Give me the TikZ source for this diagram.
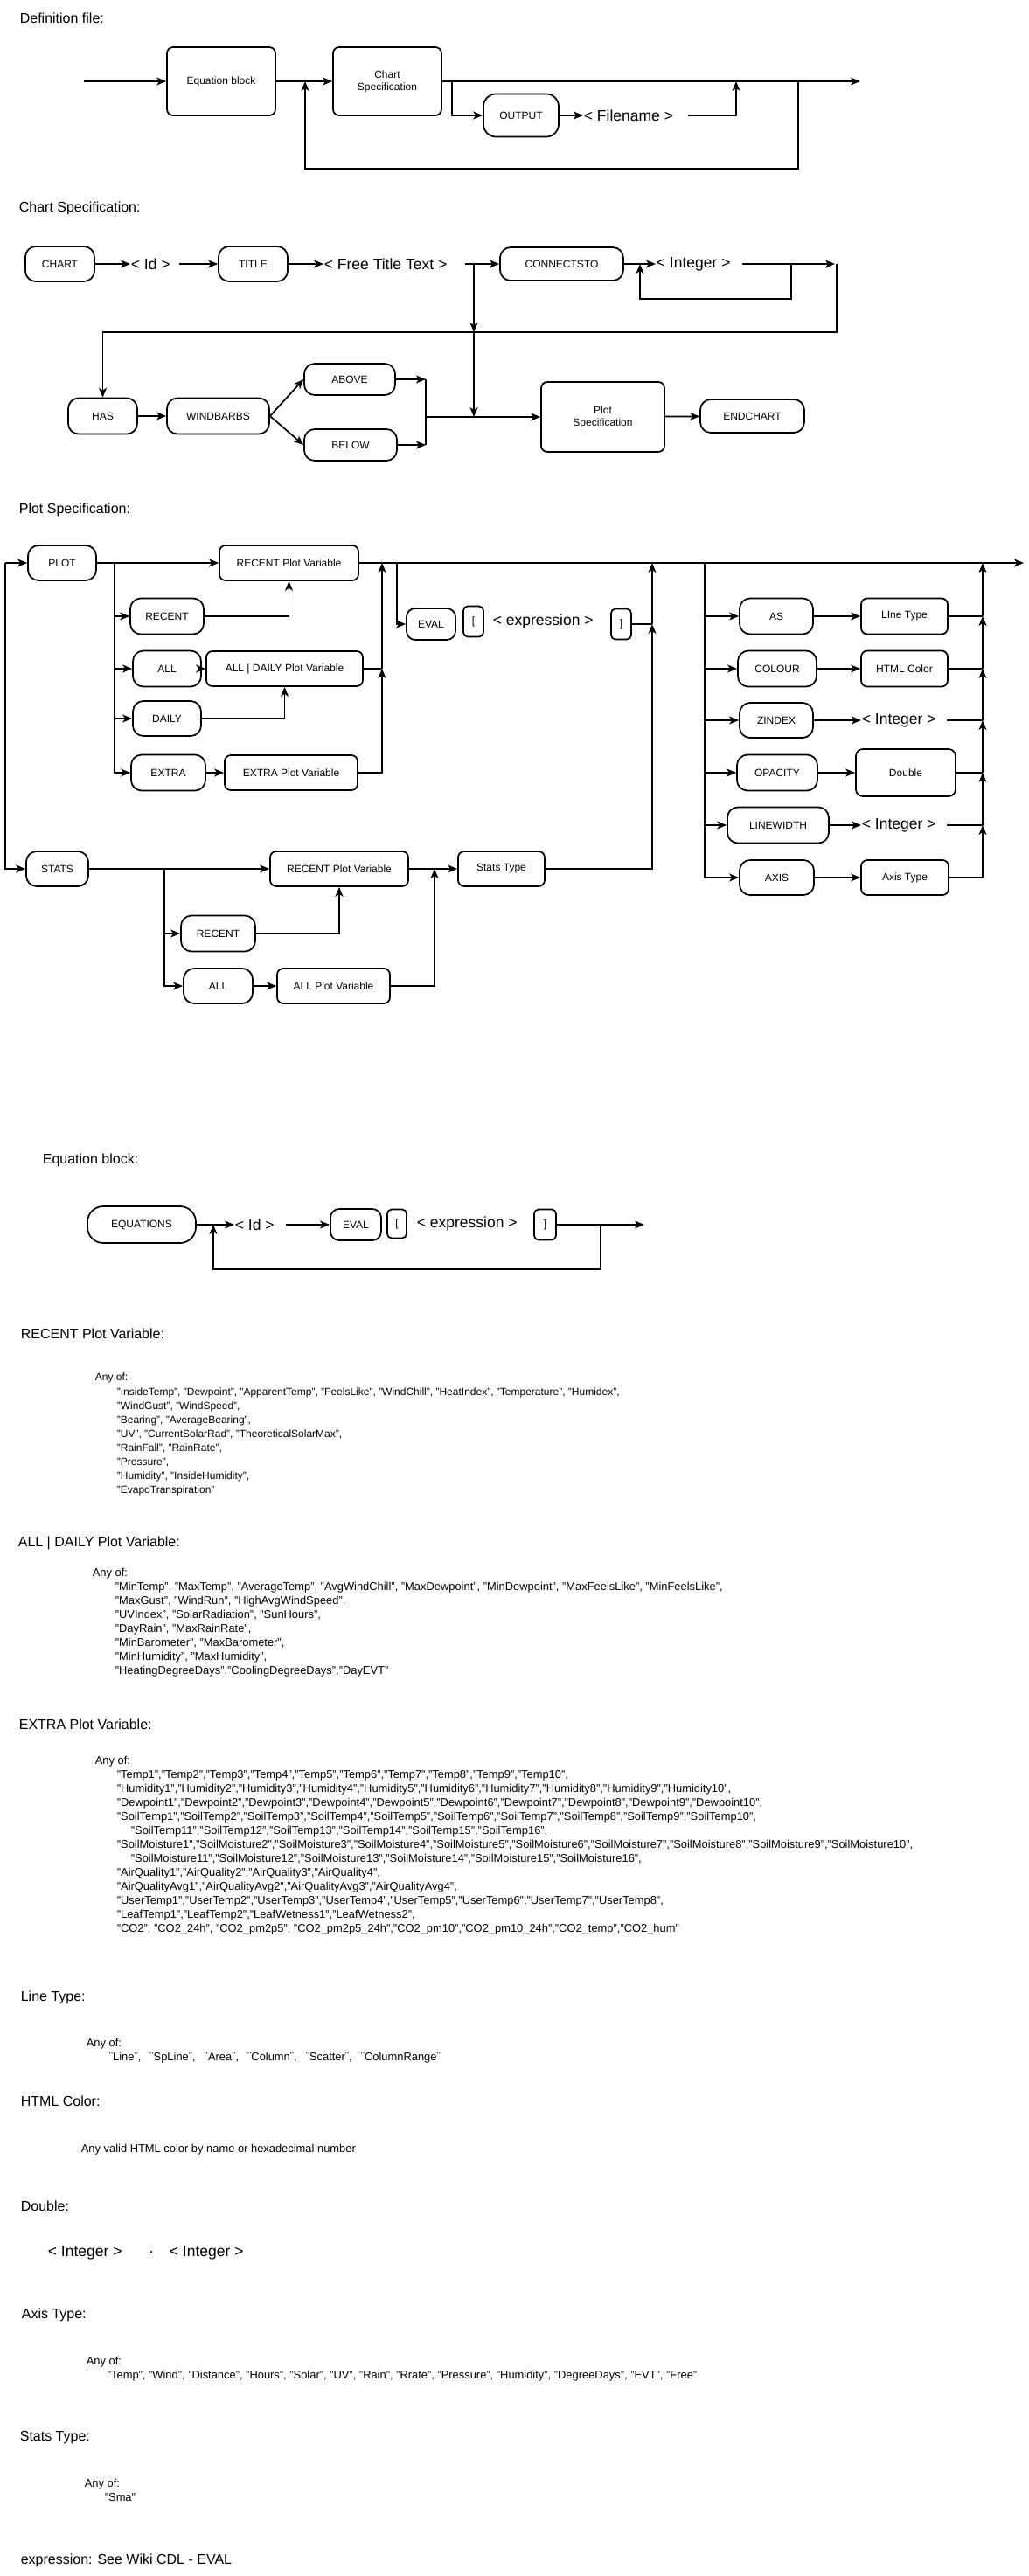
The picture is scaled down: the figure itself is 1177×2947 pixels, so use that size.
\documentclass[tikz,border=0pt]{standalone}
\usepackage{fontspec}
\setmainfont{Liberation Sans}
\usetikzlibrary{arrows.meta}
\newcommand{\ttlfont}{\fontsize{16}{19}\selectfont}
\newcommand{\boxfont}{\fontsize{12}{14}\selectfont}
\newcommand{\termfont}{\fontsize{17.5}{20}\selectfont}
\newcommand{\lstfont}{\fontsize{12}{16}\selectfont}
\newcommand{\lstwfont}{\fontsize{12.9}{16}\selectfont}
\tikzset{
  kw/.style={draw, rounded corners=12pt, inner sep=0pt, font=\boxfont, minimum height=40pt},
  blk/.style={draw, rounded corners=7pt, inner sep=0pt, font=\boxfont, align=center, minimum height=40pt},
  brk/.style={draw, rounded corners=5pt, inner sep=0pt, font=\boxfont, minimum width=23pt, minimum height=35pt},
  term/.style={inner sep=0pt, font=\termfont, anchor=west},
  arr/.style={-{Stealth[length=11pt,width=9pt,inset=3pt]}},
  ttl/.style={inner sep=0pt, font=\ttlfont, anchor=base west},
  lst/.style={inner sep=0pt, font=\lstfont, anchor=base west},
  lstw/.style={lst, font=\lstwfont},
}
\begin{document}
\begin{tikzpicture}[x=1pt,y=-1pt,line width=1.7pt]
		\useasboundingbox (0,0) rectangle (1177,2947);
		\fill[white] (0,0) rectangle (1177,2947);
		% Definition file
		\node[ttl] (tdef) at (22,27) {Definition file:};
		\coordinate (dstart) at (96,93);
		\node[blk, minimum width=124pt, minimum height=78pt] (eqblk) at (253,93) {Equation block};
		\node[blk, minimum width=124pt, minimum height=78pt] (chspec) at (443,93) {Chart\\Specification};
		\node[kw, rounded corners=14pt, minimum width=86pt, minimum height=49pt] (output) at (596,132) {OUTPUT};
		\node[term] (fname) at (667,132) {< Filename >};
		\coordinate (dend) at (984,93);
		\coordinate (d1) at (517,93);
		\coordinate (d2) at (842,93);
		\coordinate (d3) at (913,93);
		\coordinate (d4) at (349,93);
		\draw[arr] (dstart) -- (eqblk);
		\draw[arr] (eqblk) -- (chspec);
		\draw[arr] (chspec) -- (dend);
		\draw[arr] (d1) |- (output);
		\draw[arr] (output) -- (fname);
		\draw[arr] ([xshift=16pt]fname.east) -| (d2);
		\draw[arr] (d3) -- ++(0,100) -| (d4);
		% Chart Specification
		\node[ttl] (tchart) at (21,242) {Chart Specification:};
		\node[kw, minimum width=79pt] (chart) at (68.5,302) {CHART};
		\node[term] (cid) at (149,302) {< Id >};
		\node[kw, minimum width=79pt] (title) at (289.5,302) {TITLE};
		\node[term] (ftt) at (370,302) {< Free Title Text >};
		\node[kw, minimum width=141pt, minimum height=38pt] (connto) at (642.5,302) {CONNECTSTO};
		\node[term] (cint) at (750,302) {< Integer >};
		\node[kw, minimum width=79pt, minimum height=41pt] (has) at (117.5,476) {HAS};
		\node[kw, minimum width=117pt, minimum height=41pt] (windb) at (249.5,476) {WINDBARBS};
		\node[kw, minimum width=104pt, minimum height=36pt] (above) at (400,434) {ABOVE};
		\node[kw, minimum width=106pt, minimum height=36pt] (below) at (401,509) {BELOW};
		\node[blk, minimum width=141pt, minimum height=80pt] (plotspec) at (689.5,477) {Plot\\Specification};
		\node[kw, minimum width=119pt, minimum height=38pt] (endch) at (860.5,476) {ENDCHART};
		\coordinate (c1) at (532,302);
		\coordinate (c2) at (955,302);
		\coordinate (c3) at (905,302);
		\coordinate (c4) at (732,302);
		\coordinate (c5) at (957,302);
		\coordinate (c6) at (542,302);
		\coordinate (c7) at (542,380);
		\coordinate (c8) at (542,477);
		\coordinate (c9) at (487,434);
		\coordinate (c10) at (487,509);
		\coordinate (c11) at (487,477);
		\draw[arr] (chart) -- (cid);
		\draw[arr] ([xshift=10pt]cid.east) -- (title);
		\draw[arr] (title) -- (ftt);
		\draw[arr] (c1) -- (connto);
		\draw[arr] (connto) -- (cint);
		\draw[arr] ([xshift=13pt]cint.east) -- (c2);
		\draw[arr] (c3) -- ++(0,40) -| (c4);
		\draw[arr] (c5) -- ++(0,78) -| (has);
		\draw[arr] (c6) -- (c7);
		\draw[arr] (c7) -- (c8);
		\draw[arr] (has) -- (windb);
		\draw[arr] (windb.east) -- (above.west);
		\draw[arr] (windb.east) -- (below.west);
		\draw[arr] (above) -- (c9);
		\draw[arr] (below) -- (c10);
		\draw (c9) -- (c10);
		\draw[arr] (c11) -- (plotspec);
		\draw[arr] (plotspec) -- (endch);
		% Plot Specification
		\node[ttl] (tplot) at (21,587) {Plot Specification:};
		\node[kw, minimum width=78pt] (plot) at (71,644) {PLOT};
		\node[blk, minimum width=159pt] (recpv) at (330.5,644) {RECENT Plot Variable};
		\node[kw, minimum width=84pt, minimum height=41pt] (recent) at (191,705) {RECENT};
		\node[kw, minimum width=78pt, minimum height=41pt] (all) at (191,765) {ALL};
		\node[blk, minimum width=179pt] (alldpv) at (325.5,765) {ALL | DAILY Plot Variable};
		\node[kw, minimum width=78pt] (daily) at (191,822) {DAILY};
		\node[kw, minimum width=85pt, minimum height=41pt] (extra) at (192.5,884) {EXTRA};
		\node[blk, minimum width=152pt] (extrapv) at (333,884) {EXTRA Plot Variable};
		\node[kw, rounded corners=10pt, minimum width=56pt, minimum height=36pt] (eval) at (493,714) {EVAL};
		\node[brk] (lbr) at (541.5,711) {[};
		\node[term] (expr) at (563,711) {< expression >};
		\node[brk] (rbr) at (710.5,714) {]};
		\coordinate (p0) at (6,644);
		\coordinate (p1) at (131,644);
		\coordinate (p2) at (437,765);
		\coordinate (p3) at (437,644);
		\coordinate (p4) at (454,644);
		\coordinate (p5) at (746,714);
		\coordinate (p6) at (746,644);
		\coordinate (pend) at (1171,644);
		\draw[arr] (p0) -- (plot);
		\draw[arr] (plot) -- (recpv);
		\draw[arr] (recpv) -- (pend);
		\foreach \n in {recent,all,daily,extra}
			\draw[arr] (p1) |- (\n);
		\draw[arr] (recent) -| (recpv);
		\draw[arr] (all) -- (alldpv);
		\draw[arr] (daily) -| (alldpv);
		\draw[arr] (extra) -- (extrapv);
		\draw[arr] (extrapv) -| (p2);
		\draw (alldpv) -- (p2);
		\draw[arr] (p2) -- (p3);
		\draw[arr] (p4) |- (eval);
		\draw (rbr) -- (p5);
		\draw[arr] (p5) -- (p6);
		% STATS
		\node[kw, minimum width=71pt] (stats) at (65.5,994) {STATS};
		\node[blk, minimum width=158pt] (recpv2) at (388,994) {RECENT Plot Variable};
		\node[blk, minimum width=99pt] (ststype) at (573.5,994) {Stats Type};
		\node[kw, minimum width=85pt, minimum height=41pt] (recent2) at (249.5,1068) {RECENT};
		\node[kw, minimum width=79pt] (all2) at (249.5,1128) {ALL};
		\node[blk, minimum width=129pt] (allpv) at (381.5,1128) {ALL Plot Variable};
		\coordinate (p7) at (188,994);
		\coordinate (p8) at (497,994);
		\draw[arr] (p0) |- (stats);
		\draw[arr] (stats) -- (recpv2);
		\draw[arr] (recpv2) -- (ststype);
		\foreach \n in {recent2,all2}
			\draw[arr] (p7) |- (\n);
		\draw[arr] (recent2) -| (recpv2);
		\draw[arr] (all2) -- (allpv);
		\draw[arr] (allpv) -| (p8);
		\draw[arr] (ststype) -| (p5);
		% Optionen rechts
		\node[kw, minimum width=84pt, minimum height=41pt] (as) at (888,705) {AS};
		\node[blk, minimum width=99pt, minimum height=41pt] (ltype) at (1034.5,705) {LIne Type};
		\node[kw, minimum width=90pt, minimum height=41pt] (colour) at (889,765) {COLOUR};
		\node[blk, minimum width=99pt, minimum height=41pt] (html) at (1034.5,765) {HTML Color};
		\node[kw, minimum width=84pt] (zindex) at (888,824) {ZINDEX};
		\node[term] (int2) at (985,824) {< Integer >};
		\node[kw, minimum width=92pt, minimum height=41pt] (opacity) at (889,884) {OPACITY};
		\node[blk, rounded corners=8pt, minimum width=114pt, minimum height=54pt] (double) at (1036,884) {Double};
		\node[kw, minimum width=116pt, minimum height=41pt] (linew) at (890,944) {LINEWIDTH};
		\node[term] (int3) at (985,944) {< Integer >};
		\node[kw, minimum width=85pt] (axis) at (888.5,1004) {AXIS};
		\node[blk, minimum width=100pt] (axtype) at (1035,1004) {Axis Type};
		\coordinate (p9) at (806,644);
		\coordinate (q0) at (1124,644);
		\coordinate (q1) at (1124,705);
		\coordinate (q2) at (1124,765);
		\coordinate (q3) at (1124,824);
		\coordinate (q4) at (1124,884);
		\coordinate (q5) at (1124,944);
		\coordinate (q6) at (1124,1004);
		\foreach \n in {as,colour,zindex,opacity,linew,axis}
			\draw[arr] (p9) |- (\n);
		\draw[arr] (as) -- (ltype);
		\draw[arr] (colour) -- (html);
		\draw[arr] (zindex) -- (int2);
		\draw[arr] (opacity) -- (double);
		\draw[arr] (linew) -- (int3);
		\draw[arr] (axis) -- (axtype);
		\draw (ltype) -- (q1);
		\draw (html) -- (q2);
		\draw ([xshift=12pt]int2.east) -- (q3);
		\draw (double) -- (q4);
		\draw ([xshift=12pt]int3.east) -- (q5);
		\draw (axtype) -- (q6);
		\foreach \a/\b in {q6/q5,q5/q4,q4/q3,q3/q2,q2/q1,q1/q0}
			\draw[arr] (\a) -- (\b);
		% Equation block
		\node[ttl] (teq) at (48,1331) {Equation block:};
		\node[kw, rounded corners=18pt, minimum width=124pt, minimum height=42pt] (equ) at (162,1401) {EQUATIONS};
		\node[term] (eid) at (268,1401) {< Id >};
		\node[kw, rounded corners=10pt, minimum width=58pt, minimum height=36pt] (eval2) at (407,1401) {EVAL};
		\node[brk, minimum width=22pt, minimum height=33pt] (lbr2) at (454,1400) {[};
		\node[term] (expr2) at (476,1400) {< expression >};
		\node[brk, minimum width=25pt] (rbr2) at (623.5,1401) {]};
		\coordinate (eend) at (737,1401);
		\coordinate (e1) at (687,1401);
		\coordinate (e2) at (244,1401);
		\draw[arr] (equ) -- (eid);
		\draw[arr] ([xshift=13pt]eid.east) -- (eval2);
		\draw[arr] (rbr2) -- (eend);
		\draw[arr] (e1) -- ++(0,51) -| (e2);
		% RECENT Plot Variable
		\node[ttl] (trec) at (23,1531) {RECENT Plot Variable:};
		\node[lst] (arec) at (108,1579) {Any of:};
		\foreach \t [count=\i from 0] in {
			{"InsideTemp", "Dewpoint", "ApparentTemp", "FeelsLike", "WindChill", "HeatIndex", "Temperature", "Humidex",},
			{"WindGust", "WindSpeed",},
			{"Bearing", "AverageBearing",},
			{"UV", "CurrentSolarRad", "TheoreticalSolarMax",},
			{"RainFall", "RainRate",},
			{"Pressure",},
			{"Humidity", "InsideHumidity",},
			{"EvapoTranspiration"}}
			\node[lst] (rec\i) at (133,1596+16*\i) {\t};
		% ALL | DAILY Plot Variable
		\node[ttl] (tall) at (20,1769) {ALL | DAILY Plot Variable:};
		\node[lstw] (aall) at (105,1803) {Any of:};
		\foreach \t [count=\i from 0] in {
			{"MinTemp", "MaxTemp", "AverageTemp", "AvgWindChill", "MaxDewpoint", "MinDewpoint", "MaxFeelsLike", "MinFeelsLike",},
			{"MaxGust", "WindRun", "HighAvgWindSpeed",},
			{"UVIndex", "SolarRadiation", "SunHours",},
			{"DayRain", "MaxRainRate",},
			{"MinBarometer", "MaxBarometer",},
			{"MinHumidity", "MaxHumidity",},
			{"HeatingDegreeDays","CoolingDegreeDays","DayEVT"}}
			\node[lstw] (all\i) at (131,1819+16*\i) {\t};
		% EXTRA Plot Variable
		\node[ttl] (textra) at (21,1978) {EXTRA Plot Variable:};
		\node[lstw] (aextra) at (108,2018) {Any of:};
		\foreach \t [count=\i from 0] in {
			{"Temp1","Temp2","Temp3","Temp4","Temp5","Temp6","Temp7","Temp8","Temp9","Temp10",},
			{"Humidity1","Humidity2","Humidity3","Humidity4","Humidity5","Humidity6","Humidity7","Humidity8","Humidity9","Humidity10",},
			{"Dewpoint1","Dewpoint2","Dewpoint3","Dewpoint4","Dewpoint5","Dewpoint6","Dewpoint7","Dewpoint8","Dewpoint9","Dewpoint10",},
			{"SoilTemp1","SoilTemp2","SoilTemp3","SoilTemp4","SoilTemp5","SoilTemp6","SoilTemp7","SoilTemp8","SoilTemp9","SoilTemp10",},
			{\hspace*{16pt}"SoilTemp11","SoilTemp12","SoilTemp13","SoilTemp14","SoilTemp15","SoilTemp16",},
			{"SoilMoisture1","SoilMoisture2","SoilMoisture3","SoilMoisture4","SoilMoisture5","SoilMoisture6","SoilMoisture7","SoilMoisture8","SoilMoisture9","SoilMoisture10",},
			{\hspace*{16pt}"SoilMoisture11","SoilMoisture12","SoilMoisture13","SoilMoisture14","SoilMoisture15","SoilMoisture16",},
			{"AirQuality1","AirQuality2","AirQuality3","AirQuality4",},
			{"AirQualityAvg1","AirQualityAvg2","AirQualityAvg3","AirQualityAvg4",},
			{"UserTemp1","UserTemp2","UserTemp3","UserTemp4","UserTemp5","UserTemp6","UserTemp7","UserTemp8",},
			{"LeafTemp1","LeafTemp2","LeafWetness1","LeafWetness2",},
			{"CO2", "CO2\_24h", "CO2\_pm2p5", "CO2\_pm2p5\_24h","CO2\_pm10","CO2\_pm10\_24h","CO2\_temp","CO2\_hum"}}
			\node[lstw] (ext\i) at (133,2034+16*\i) {\t};
		% Line Type
		\node[ttl] (tline) at (23,2289) {Line Type:};
		\node[lstw] (aline) at (98,2341) {Any of:};
		\node[lstw] (vline) at (124,2357) {¨Line¨,\hspace{10pt}¨SpLine¨,\hspace{10pt}¨Area¨,\hspace{10pt}¨Column¨,\hspace{10pt}¨Scatter¨,\hspace{10pt}¨ColumnRange¨};
		% HTML Color
		\node[ttl] (thtml) at (23,2409) {HTML Color:};
		\node[lstw] (vhtml) at (92,2462) {Any valid HTML color by name or hexadecimal number};
		% Double
		\node[ttl] (tdbl) at (23,2529) {Double:};
		\node[term] (dint1) at (54,2577) {< Integer >};
		\node[term] (ddot) at (170,2577) {.};
		\node[term] (dint2) at (193,2577) {< Integer >};
		% Axis Type
		\node[ttl] (taxis) at (24,2652) {Axis Type:};
		\node[lstw] (aaxis) at (98,2705) {Any of:};
		\node[lstw] (vaxis) at (122,2721) {"Temp", "Wind", "Distance", "Hours", "Solar", "UV", "Rain", "Rrate", "Pressure", "Humidity", "DegreeDays", "EVT", "Free"};
		% Stats Type
		\node[ttl] (tstat) at (22,2792) {Stats Type:};
		\node[lstw] (astat) at (96,2845) {Any of:};
		\node[lstw] (vstat) at (119,2861) {"Sma"};
		% expression
		\node[ttl] (texpr) at (23,2933) {expression: See Wiki CDL - EVAL};
\end{tikzpicture}
\end{document}
